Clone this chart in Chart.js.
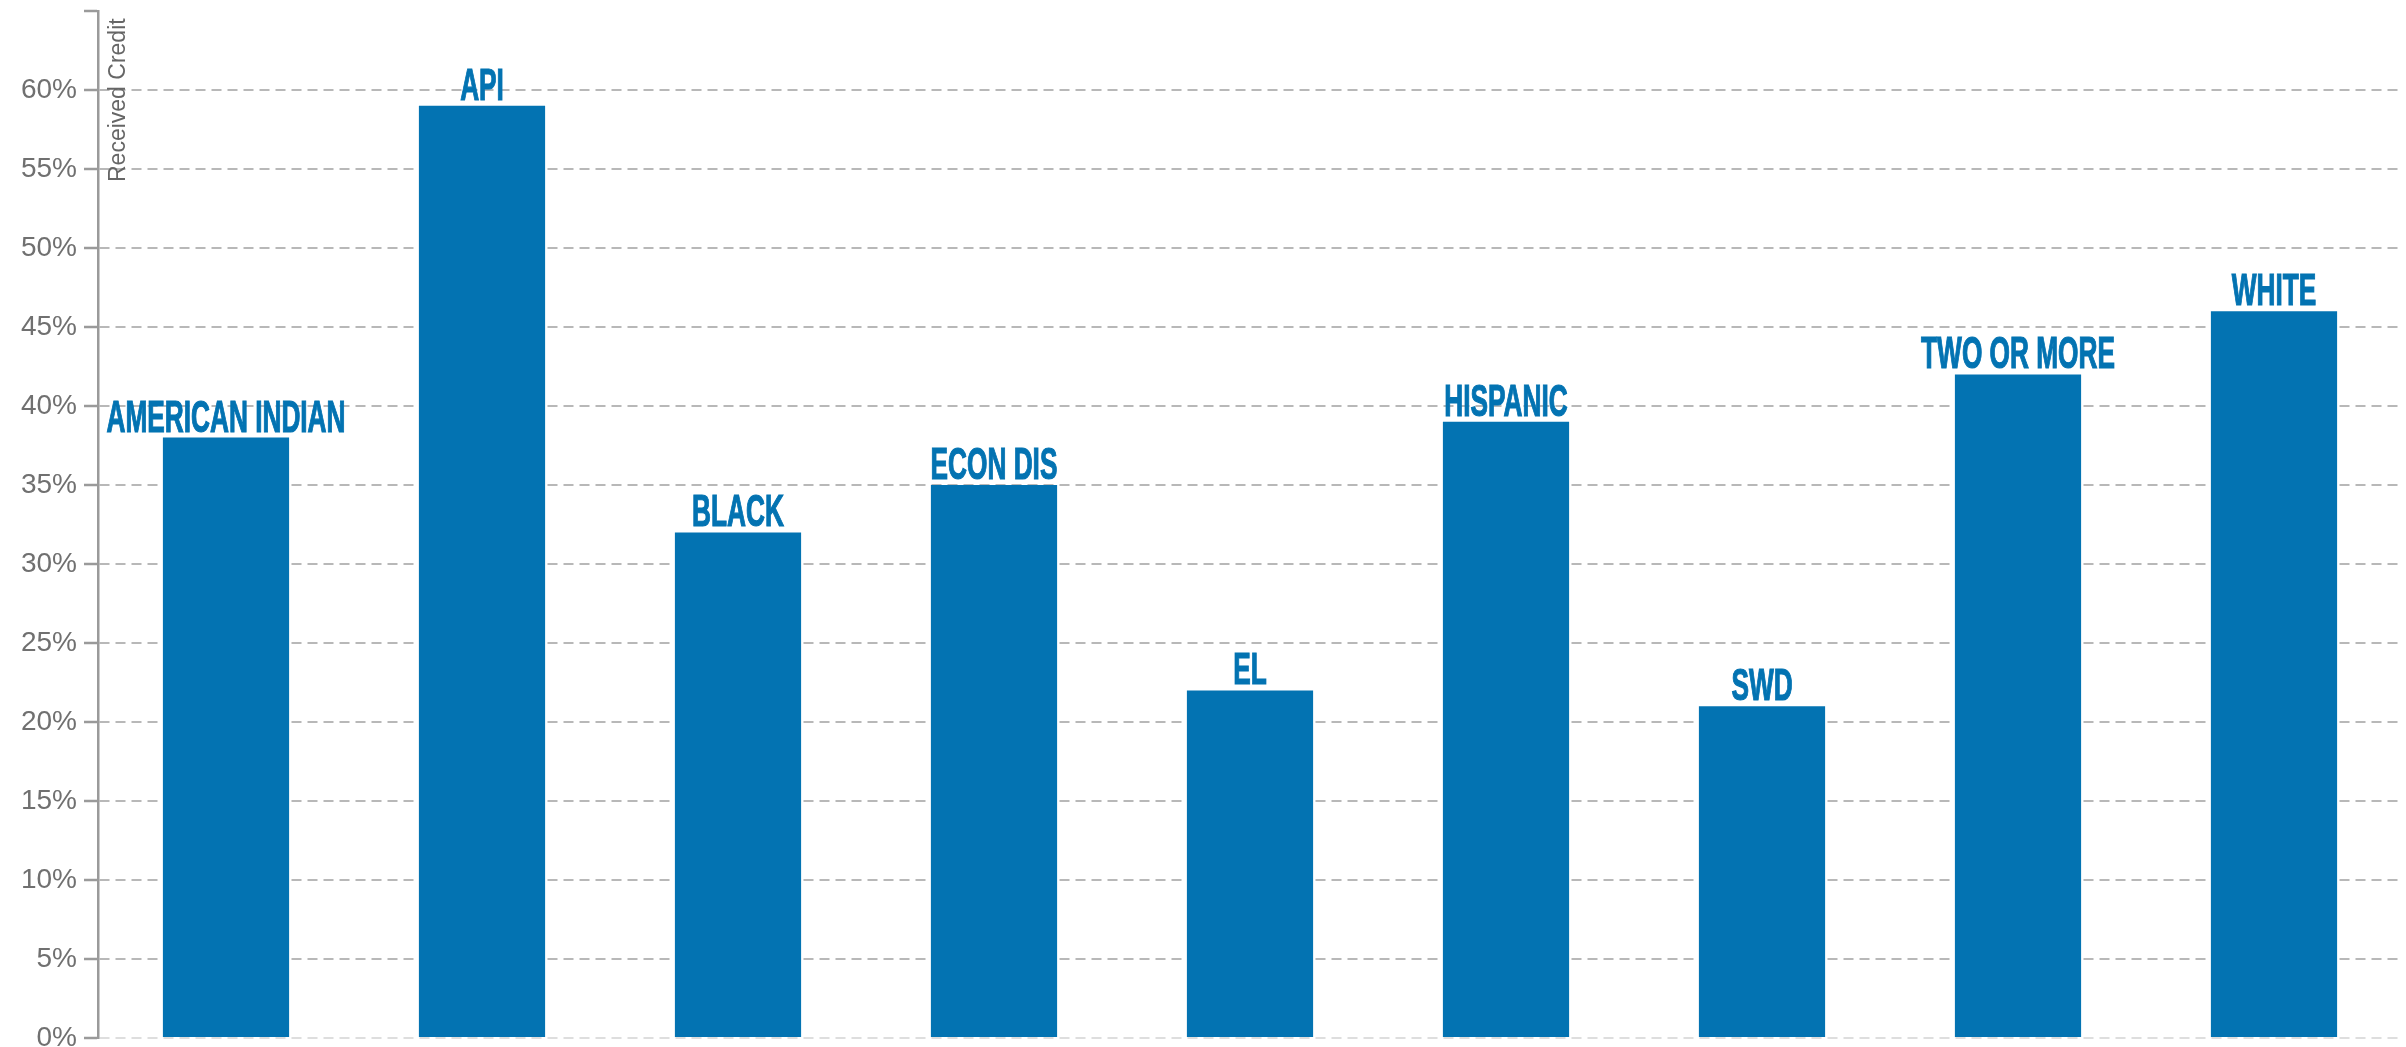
<!DOCTYPE html>
<html>
<head>
<meta charset="utf-8">
<title>Received Credit by Student Group</title>
<script src="https://cdn.jsdelivr.net/npm/chart.js@4/dist/chart.umd.min.js"></script>
<style>
  html, body { margin: 0; padding: 0; background: #ffffff; }
  #wrap { position: relative; width: 2406px; height: 1047px; }
</style>
</head>
<body>
<div id="wrap"><canvas id="chart"></canvas></div>
<script>
// Student groups and the share of each that received credit (%)
const categories = ['AMERICAN INDIAN', 'API', 'BLACK', 'ECON DIS', 'EL', 'HISPANIC', 'SWD', 'TWO OR MORE', 'WHITE'];
const receivedCredit = [38, 59, 32, 35, 22, 39, 21, 42, 46];
const axisTitle = 'Received Credit';
const yMin = 0;
const yMax = 65;
const yStep = 5;

const BAR_BLUE = '#0373b2';

// Category names written above each bar in a tall, condensed bold face
const barNamePlugin = {
  id: 'barNames',
  afterDatasetsDraw(chart) {
    const ctx = chart.ctx;
    const meta = chart.getDatasetMeta(0);
    ctx.save();
    ctx.font = 'bold 44px "Liberation Sans Narrow", "Liberation Sans", Arial, sans-serif';
    const sx = 239 / ctx.measureText('AMERICAN INDIAN').width;
    ctx.fillStyle = BAR_BLUE;
    ctx.strokeStyle = BAR_BLUE;
    ctx.lineWidth = 1.2;
    ctx.textAlign = 'center';
    ctx.textBaseline = 'alphabetic';
    meta.data.forEach((bar, i) => {
      ctx.save();
      ctx.translate(bar.x, bar.y - 6);
      ctx.scale(sx, 1);
      ctx.fillText(chart.data.labels[i], 0, 0);
      ctx.strokeText(chart.data.labels[i], 0, 0);
      ctx.restore();
    });
    ctx.restore();
  }
};

// Vertical axis title, set just inside the plot next to the axis line
const axisTitlePlugin = {
  id: 'axisTitleInside',
  afterDraw(chart) {
    const ctx = chart.ctx;
    const area = chart.chartArea;
    ctx.save();
    ctx.font = '23px "Liberation Sans", Arial, sans-serif';
    ctx.fillStyle = '#666666';
    ctx.textAlign = 'left';
    ctx.textBaseline = 'alphabetic';
    ctx.translate(area.left + 27, area.top + 171);
    ctx.rotate(-Math.PI / 2);
    ctx.fillText(axisTitle, 0, 0);
    ctx.restore();
  }
};

new Chart(document.getElementById('chart'), {
  type: 'bar',
  data: {
    labels: categories,
    datasets: [{
      label: axisTitle,
      data: receivedCredit,
      backgroundColor: BAR_BLUE,
      borderWidth: 0,
      categoryPercentage: 1.0,
      barPercentage: 0.493
    }]
  },
  options: {
    responsive: true,
    maintainAspectRatio: false,
    animation: false,
    devicePixelRatio: 1,
    layout: { padding: { top: 11, right: 4, bottom: 9, left: 0 } },
    plugins: {
      legend: { display: false },
      tooltip: { enabled: false },
      title: { display: false }
    },
    scales: {
      x: {
        display: false
      },
      y: {
        min: yMin,
        max: yMax,
        ticks: {
          stepSize: yStep,
          padding: 7,
          color: '#707070',
          font: { family: '"Liberation Sans", Arial, sans-serif', size: 28 },
          callback: (v) => (v === yMax ? '' : v + '%')
        },
        grid: {
          color: (c) => {
            const v = c.tick ? c.tick.value : null;
            if (v === yMax) return 'rgba(0,0,0,0)';
            if (v === 0) return '#dedede';
            return '#b8b8b8';
          },
          lineWidth: 2,
          tickColor: '#9a9a9a',
          tickLength: 14,
          tickWidth: 2.5
        },
        border: {
          display: true,
          color: '#9a9a9a',
          width: 2.5,
          dash: [10, 6]
        },
        afterFit(scale) {
          scale.width = 98;
          scale.paddingTop = 0;
          scale.paddingBottom = 0;
        }
      }
    }
  },
  plugins: [barNamePlugin, axisTitlePlugin]
});
</script>
</body>
</html>
